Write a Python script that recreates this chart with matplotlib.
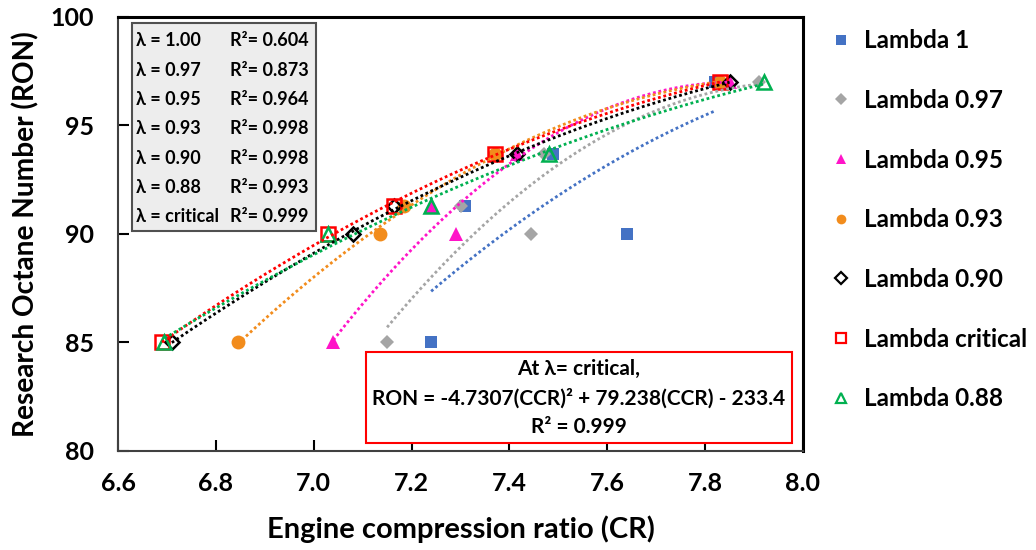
import numpy as np
import matplotlib
matplotlib.use("Agg")
import matplotlib.pyplot as plt
from matplotlib.patches import Rectangle

plt.rcParams['font.family'] = ['Lato', 'DejaVu Sans']
plt.rcParams['font.weight'] = 'bold'

# RON levels are the same for every lambda
ron = [85, 90, 91.3, 93.7, 97]

series_names = ["Lambda 1", "Lambda 0.97", "Lambda 0.95", "Lambda 0.93",
                "Lambda 0.90", "Lambda critical", "Lambda 0.88"]
cr_lambda_1 = [7.24, 7.64, 7.31, 7.49, 7.82]
cr_lambda_097 = [7.15, 7.445, 7.30, 7.47, 7.91]
cr_lambda_095 = [7.04, 7.29, 7.24, 7.415, 7.85]
cr_lambda_093 = [6.845, 7.135, 7.185, 7.37, 7.83]
cr_lambda_090 = [6.71, 7.08, 7.165, 7.415, 7.85]
cr_lambda_crit = [6.69, 7.03, 7.165, 7.37, 7.83]
cr_lambda_088 = [6.695, 7.03, 7.24, 7.48, 7.92]

lambda_labels = ["1.00", "0.97", "0.95", "0.93", "0.90", "0.88", "critical"]
r2_labels = ["0.604", "0.873", "0.964", "0.998", "0.998", "0.993", "0.999"]

cr_all = [cr_lambda_1, cr_lambda_097, cr_lambda_095, cr_lambda_093,
          cr_lambda_090, cr_lambda_crit, cr_lambda_088]
colors = ["#4472C4", "#A5A5A5", "#FF14C8", "#F28C1C", "black", "#FF0000", "#00B050"]
markers = ["s", "D", "^", "o", "D", "s", "^"]
filled = [True, True, True, True, False, False, False]
msizes = [8.5, 7.5, 10, 10, 7, 10, 10]

W, H = 1036, 550
fig = plt.figure(figsize=(W / 100, H / 100), dpi=100)
ax = fig.add_axes([118 / W, 1 - 451 / H, 685 / W, 434 / H])


def px(x, y):
    return x / W, 1 - y / H


for cr, name, c, m, f, ms in zip(cr_all, series_names, colors, markers, filled, msizes):
    ax.plot(cr, ron, linestyle="none", marker=m, markersize=ms,
            markerfacecolor=c if f else "none", markeredgecolor=c,
            markeredgewidth=0 if f else 1.8, zorder=3)
    # Excel-style 2nd order polynomial trendline over the data range
    coef = np.polyfit(cr, ron, 2)
    xs = np.linspace(min(cr), max(cr), 200)
    ax.plot(xs, np.polyval(coef, xs), linestyle=(0, (1, 1)), color=c, lw=2, zorder=4)

ax.set_xlim(6.6, 8.0)
ax.set_ylim(80, 100)
ax.set_xticks(np.arange(6.6, 8.01, 0.2))
ax.set_xticklabels([f"{v:.1f}" for v in np.arange(6.6, 8.01, 0.2)])
ax.set_yticks([80, 85, 90, 95, 100])
ax.tick_params(direction="in", length=8, width=1.5, labelsize=18)
ax.tick_params(axis="x", pad=15)
ax.tick_params(axis="y", pad=17)
for s in ["left", "bottom"]:
    ax.spines[s].set_color("#404040")
    ax.spines[s].set_linewidth(1.5)
for s in ["top", "right"]:
    ax.spines[s].set_color("black")
    ax.spines[s].set_linewidth(2.2)
ax.set_xlabel("Engine compression ratio (CR)", fontsize=21, fontweight="bold", labelpad=15)
ax.set_ylabel("Research Octane Number (RON)", fontsize=20.2, fontweight="bold", labelpad=8)

# legend on the right
handles = []
for name, c, m, f in zip(series_names, colors, markers, filled):
    h, = ax.plot([], [], linestyle="none", marker=m, markersize=7 if m != "D" else 6,
                 markerfacecolor=c if f else "none", markeredgecolor=c,
                 markeredgewidth=0 if f else 1.6, label=name)
    handles.append(h)
fig.legend(handles=handles, loc="upper left", bbox_to_anchor=px(817, 17),
           frameon=False, fontsize=17.5, labelspacing=1.51, handletextpad=0.42,
           handlelength=1.0, borderpad=0)

# R^2 table in upper left
fig.patches.append(Rectangle(px(132, 231), 184 / W, 208 / H, transform=fig.transFigure,
                             facecolor="#EDEDED", edgecolor="#505050", lw=1.5, zorder=5))
for i, (lam, r2) in enumerate(zip(lambda_labels, r2_labels)):
    yy = 41 + i * 29.3
    fig.text(*px(136, yy), f"λ = {lam}", fontsize=13, fontweight="bold",
             va="center", ha="left", zorder=6)
    fig.text(*px(230, yy), f"R²= {r2}", fontsize=13, fontweight="bold",
             va="center", ha="left", zorder=6)

# equation box
fig.patches.append(Rectangle(px(366, 443), 426 / W, 91 / H, transform=fig.transFigure,
                             facecolor="white", edgecolor="#FF0000", lw=1.5, zorder=5))
eq_lines = ["At λ= critical,", "RON = -4.7307(CCR)² + 79.238(CCR) - 233.4", "R² = 0.999"]
for i, t in enumerate(eq_lines):
    fig.text(*px(579, 369 + i * 29), t, fontsize=15, fontweight="bold",
             ha="center", va="center", zorder=6)

fig.savefig("out.png", dpi=100)
